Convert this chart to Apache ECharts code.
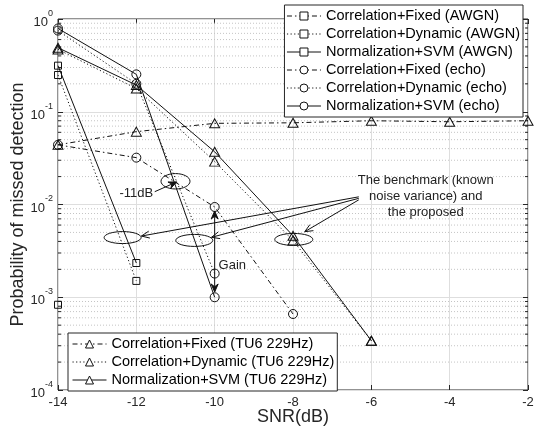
<!DOCTYPE html>
<html>
<head>
<meta charset="utf-8">
<script src="https://cdn.jsdelivr.net/npm/echarts@6/dist/echarts.min.js"></script>
<style>
  html, body { margin: 0; padding: 0; background: #fff; }
  #chart { width: 537px; height: 428px; }
</style>
</head>
<body>
<div id="chart"></div>
<script>
// SNR points (dB) shared by every curve
const snr = [-14, -12, -10, -8, -6, -4, -2];

// Miss-detection probability per method and channel (values past the end are zero / below range)
const corrFixedAwgn = [0.00083];
const corrDynAwgn   = [0.249, 0.0015];
const svmAwgn       = [0.314, 0.00234];
const corrFixedEcho = [0.044, 0.032, 0.0094, 0.00066];
const corrDynEcho   = [0.75, 0.20, 0.0018];
const svmEcho       = [0.79, 0.253, 0.0010];
const corrFixedTu6  = [0.044, 0.061, 0.075, 0.076, 0.080, 0.078, 0.080];
const corrDynTu6    = [0.47, 0.178, 0.029, 0.0041, 0.00034];
const svmTu6        = [0.49, 0.194, 0.037, 0.0046, 0.00034];

const seriesNames = [
  'Correlation+Fixed (AWGN)', 'Correlation+Dynamic (AWGN)', 'Normalization+SVM (AWGN)',
  'Correlation+Fixed (echo)', 'Correlation+Dynamic (echo)', 'Normalization+SVM (echo)',
  'Correlation+Fixed (TU6 229Hz)', 'Correlation+Dynamic (TU6 229Hz)', 'Normalization+SVM (TU6 229Hz)'
];

// Axis ticks
const xTicks = [-14, -12, -10, -8, -6, -4, -2];
const yDecades = [1e-4, 1e-3, 1e-2, 1e-1, 1];
const yMinor = [];
for (let k = -4; k < 0; k++) for (let m = 2; m <= 9; m++) yMinor.push(m * Math.pow(10, k));

const FONT = '"Liberation Sans", Arial, Helvetica, sans-serif';
const INK = '#111';
const AXIS = '#262626';
const DASHDOT = [5, 3, 1.5, 3];
const DOT = [1.2, 2.4];

const chart = echarts.init(document.getElementById('chart'), null, { renderer: 'canvas' });

function curve(name, vals, dash, symbol, size) {
  return {
    name: name,
    type: 'line',
    data: vals.map((v, i) => [snr[i], v]),
    symbol: symbol,
    symbolSize: size,
    showAllSymbol: true,
    silent: true,
    animation: false,
    lineStyle: { color: INK, width: 1, type: dash },
    itemStyle: { color: 'rgba(255,255,255,0)', borderColor: INK, borderWidth: 1 },
    emphasis: { disabled: true },
    z: 3
  };
}

const legendCommon = {
  orient: 'vertical',
  backgroundColor: '#fff',
  borderColor: AXIS,
  borderWidth: 1,
  borderRadius: 0,
  itemWidth: 34,
  itemHeight: 10,
  itemGap: 0,
  selectedMode: false,
  itemStyle: { color: '#fff', borderColor: INK, borderWidth: 1 },
  lineStyle: { width: 1, color: INK },
  textStyle: { fontFamily: FONT, fontSize: 14.5, color: '#000', lineHeight: 18 },
  z: 10
};

const option = {
  animation: false,
  backgroundColor: '#fff',
  grid: {
    left: 58, right: 9, top: 19, bottom: 38,
    outerBoundsMode: 'none', containLabel: false,
    show: true, borderColor: AXIS, borderWidth: 1, backgroundColor: 'rgba(0,0,0,0)'
  },
  legend: [
    Object.assign({}, legendCommon, { data: seriesNames.slice(0, 6), right: 14, top: 5, padding: [2, 3, 2, 2] }),
    Object.assign({}, legendCommon, { data: seriesNames.slice(6), left: 68, top: 333, padding: [2, 3, 2, 4] })
  ],
  xAxis: [
    {
      type: 'value', min: xTicks[0], max: xTicks[xTicks.length - 1], interval: 2,
      position: 'bottom',
      name: 'SNR(dB)', nameLocation: 'middle', nameGap: 18, nameMoveOverlap: false,
      nameTextStyle: { fontFamily: FONT, fontSize: 18, color: AXIS },
      axisLine: { show: false },
      axisTick: { inside: true, length: 5, lineStyle: { color: AXIS } },
      axisLabel: { fontFamily: FONT, fontSize: 13, color: AXIS, margin: 6 },
      splitLine: { show: true, lineStyle: { color: '#dedede', width: 1 } }
    },
    {
      type: 'value', min: xTicks[0], max: xTicks[xTicks.length - 1], interval: 2,
      position: 'top',
      axisLine: { show: false },
      axisTick: { inside: true, length: 5, lineStyle: { color: AXIS } },
      axisLabel: { show: false },
      splitLine: { show: false }
    }
  ],
  yAxis: [
    {
      type: 'log', logBase: 10, min: yDecades[0], max: yDecades[yDecades.length - 1],
      position: 'left',
      name: 'Probability of missed detection', nameLocation: 'middle', nameGap: 31, nameMoveOverlap: false,
      nameTextStyle: { fontFamily: FONT, fontSize: 18, color: AXIS },
      axisLine: { show: false },
      axisTick: { inside: true, length: 5, lineStyle: { color: AXIS } },
      axisLabel: {
        margin: 5,
        formatter: v => '{b|10}{s|' + Math.round(Math.log10(v)) + '}',
        rich: {
          b: { fontFamily: FONT, fontSize: 13, color: AXIS, verticalAlign: 'bottom', lineHeight: 20 },
          s: { fontFamily: FONT, fontSize: 9, color: AXIS, verticalAlign: 'top', lineHeight: 20 }
        }
      },
      splitLine: { show: true, lineStyle: { color: '#dedede', width: 1 } }
    },
    {
      type: 'log', logBase: 10, min: yDecades[0], max: yDecades[yDecades.length - 1],
      position: 'right',
      axisLine: { show: false },
      axisTick: { inside: true, length: 5, lineStyle: { color: AXIS } },
      axisLabel: { show: false },
      splitLine: { show: false }
    }
  ],
  series: [
    {
      // dotted minor grid lines and minor ticks on both vertical edges
      type: 'custom',
      silent: true,
      z: 1,
      data: yMinor.map(v => [xTicks[0], v]),
      encode: { x: 0, y: 1 },
      renderItem: function (params, api) {
        const v = api.value(1);
        const a = api.coord([xTicks[0], v]);
        const b = api.coord([xTicks[xTicks.length - 1], v]);
        return {
          type: 'group',
          children: [
            { type: 'line', shape: { x1: a[0], y1: a[1], x2: b[0], y2: b[1] }, style: { stroke: '#c4c4c4', lineWidth: 1, lineDash: [1, 2] } },
            { type: 'line', shape: { x1: a[0], y1: a[1], x2: a[0] + 3, y2: a[1] }, style: { stroke: AXIS, lineWidth: 1 } },
            { type: 'line', shape: { x1: b[0] - 3, y1: b[1], x2: b[0], y2: b[1] }, style: { stroke: AXIS, lineWidth: 1 } }
          ]
        };
      }
    },
    curve(seriesNames[0], corrFixedAwgn, DASHDOT, 'rect', 7),
    curve(seriesNames[1], corrDynAwgn, DOT, 'rect', 7),
    curve(seriesNames[2], svmAwgn, 'solid', 'rect', 7),
    curve(seriesNames[3], corrFixedEcho, DASHDOT, 'circle', 9),
    curve(seriesNames[4], corrDynEcho, DOT, 'circle', 9),
    curve(seriesNames[5], svmEcho, 'solid', 'circle', 9),
    curve(seriesNames[6], corrFixedTu6, DASHDOT, 'triangle', [10, 9]),
    curve(seriesNames[7], corrDynTu6, DOT, 'triangle', [10, 9]),
    curve(seriesNames[8], svmTu6, 'solid', 'triangle', [10, 9])
  ]
};

chart.setOption(option);

// ---- annotations, anchored in data coordinates ----
const px = (x, y) => chart.convertToPixel({ gridIndex: 0 }, [x, y]);

function head(tip, from, len, half) {
  const dx = tip[0] - from[0], dy = tip[1] - from[1];
  const L = Math.hypot(dx, dy), ux = dx / L, uy = dy / L;
  const bx = tip[0] - ux * len, by = tip[1] - uy * len;
  return {
    left: [bx - uy * half, by + ux * half],
    right: [bx + uy * half, by - ux * half],
    notch: [tip[0] - ux * len * 0.65, tip[1] - uy * len * 0.65]
  };
}

function arrow(from, to, filled) {
  const h = head(to, from, 8, 3.5);
  const out = [{ type: 'line', shape: { x1: from[0], y1: from[1], x2: to[0], y2: to[1] }, style: { stroke: INK, lineWidth: 1 }, z: 20 }];
  if (filled) {
    out.push({ type: 'polygon', shape: { points: [h.left, to, h.right, h.notch] }, style: { fill: INK, stroke: INK, lineWidth: 1 }, z: 20 });
  } else {
    out.push({ type: 'polyline', shape: { points: [h.left, to, h.right] }, style: { stroke: INK, lineWidth: 1, fill: null }, z: 20 });
  }
  return out;
}

function ring(c, rx, ry) {
  return { type: 'ellipse', shape: { cx: c[0], cy: c[1], rx: rx, ry: ry }, style: { fill: null, stroke: INK, lineWidth: 1 }, z: 20 };
}

function label(p, text, align) {
  return { type: 'text', x: p[0], y: p[1], style: { text: text, fontFamily: FONT, fontSize: 13, fill: '#222', align: align, verticalAlign: 'middle', lineHeight: 16 }, z: 21 };
}

const shiftRing = px(-11, 0.0178);
const benchRings = [px(-12.35, 0.0044), px(-10.52, 0.0041), px(-7.98, 0.0042)];
const benchTail = px(-6.32, 0.0121);
const benchTips = [px(-11.87, 0.00457), px(-10.08, 0.00443), px(-7.70, 0.00509)];

const g = [];
g.push(ring(shiftRing, 14.5, 7.7));
benchRings.forEach((c, i) => g.push(ring(c, i === 2 ? 19 : 18.5, 6)));
benchTips.forEach((t, i) => g.push.apply(g, arrow([benchTail[0], benchTail[1] + i * 1.5], t, false)));
g.push.apply(g, arrow(px(-11.53, 0.01374), px(-10.97, 0.0175), true));
g.push(label(px(-12.0, 0.0133), '-11dB', 'center'));
// Gain: double arrow between the benchmark and the proposed result at -10 dB
const gTop = px(-10, 0.0085), gBot = px(-10, 0.00114);
const gMid = [(gTop[0] + gBot[0]) / 2, (gTop[1] + gBot[1]) / 2];
g.push.apply(g, arrow(gMid, gTop, true));
g.push.apply(g, arrow(gMid, gBot, true));
g.push(label(px(-9.9, 0.00223), 'Gain', 'left'));
g.push(label(px(-4.61, 0.01235), 'The benchmark (known\nnoise variance) and\nthe proposed', 'center'));

chart.setOption({ graphic: g });
</script>
</body>
</html>
